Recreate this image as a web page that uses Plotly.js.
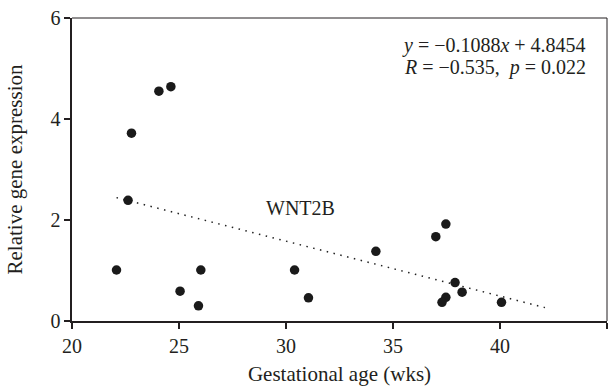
<!DOCTYPE html>
<html>
<head>
<meta charset="utf-8">
<script src="https://cdn.plot.ly/plotly-3.0.1.min.js"></script>
<style>html,body{margin:0;padding:0;background:#fff;}#chart{width:615px;height:387px;}</style>
</head>
<body>
<div id="chart"></div>
<script>
var gestAge = [22.08, 22.62, 22.78, 24.06, 24.62, 25.05, 25.91, 26.02, 30.40, 31.05, 34.20, 37.00, 37.47, 37.90, 38.23, 37.47, 37.29, 40.07];
var expression = [1.01, 2.39, 3.72, 4.55, 4.64, 0.59, 0.30, 1.01, 1.01, 0.46, 1.38, 1.67, 1.92, 0.76, 0.57, 0.47, 0.37, 0.37];
var slope = -0.1088, intercept = 4.8454;
var fitRange = [22.08, 42.1];
var xTicks = [20, 25, 30, 35, 40, 45];
var yTicks = [0, 2, 4, 6];

var font = "'Liberation Serif', 'Times New Roman', serif";
var fitY = fitRange.map(function(x){ return slope * x + intercept; });

var traces = [
  {x: fitRange, y: fitY, mode: 'lines', type: 'scatter',
   line: {color: '#222', width: 1.5, dash: '1.5px,5.5px'}, hoverinfo: 'skip'},
  {x: gestAge, y: expression, mode: 'markers', type: 'scatter',
   marker: {color: '#1a1a1a', size: 9.5}}
];

var layout = {
  width: 615, height: 387,
  margin: {l: 72.3, r: 8.3, t: 18.3, b: 66, pad: 0},
  paper_bgcolor: '#fff', plot_bgcolor: '#fff',
  showlegend: false,
  font: {family: font, color: '#231f20', size: 20},
  xaxis: {
    range: [20, 45], tickvals: xTicks, ticktext: xTicks.map(String),
    showgrid: false, zeroline: false, showline: true, linecolor: '#231f20', linewidth: 1.6,
    ticks: 'outside', ticklen: 6, tickwidth: 1.4, tickcolor: '#231f20',
    tickfont: {size: 20, family: font},
    title: {text: 'Gestational age (wks)', font: {size: 21, family: font}, standoff: 11}
  },
  yaxis: {
    range: [0, 6], tickvals: yTicks, ticktext: yTicks.map(String),
    showgrid: false, zeroline: false, showline: true, linecolor: '#231f20', linewidth: 1.6,
    ticks: 'outside', ticklen: 6, tickwidth: 1.4, tickcolor: '#231f20',
    tickfont: {size: 20, family: font},
    title: {text: 'Relative gene expression', font: {size: 21, family: font}, standoff: 22}
  },
  shapes: [
    {type: 'line', xref: 'paper', yref: 'paper', x0: 0, x1: 1, y0: 1, y1: 1, line: {color: '#231f20', width: 1}},
    {type: 'line', xref: 'paper', yref: 'paper', x0: 1, x1: 1, y0: 0, y1: 1, line: {color: '#231f20', width: 1}}
  ],
  annotations: [
    {x: 30.7, y: 2.24, xref: 'x', yref: 'y', text: 'WNT2B', showarrow: false,
     font: {size: 20, family: font}},
    {x: 0.965, y: 0.909, xref: 'paper', yref: 'paper', xanchor: 'right', yanchor: 'middle',
     text: '<i>y</i> = \u22120.1088<i>x</i> + 4.8454', showarrow: false, font: {size: 20, family: font}},
    {x: 0.965, y: 0.835, xref: 'paper', yref: 'paper', xanchor: 'right', yanchor: 'middle',
     text: '<i>R</i> = \u22120.535,  <i>p</i> = 0.022', showarrow: false, font: {size: 20, family: font}}
  ]
};

Plotly.newPlot('chart', traces, layout, {displayModeBar: false, staticPlot: true});
</script>
</body>
</html>
